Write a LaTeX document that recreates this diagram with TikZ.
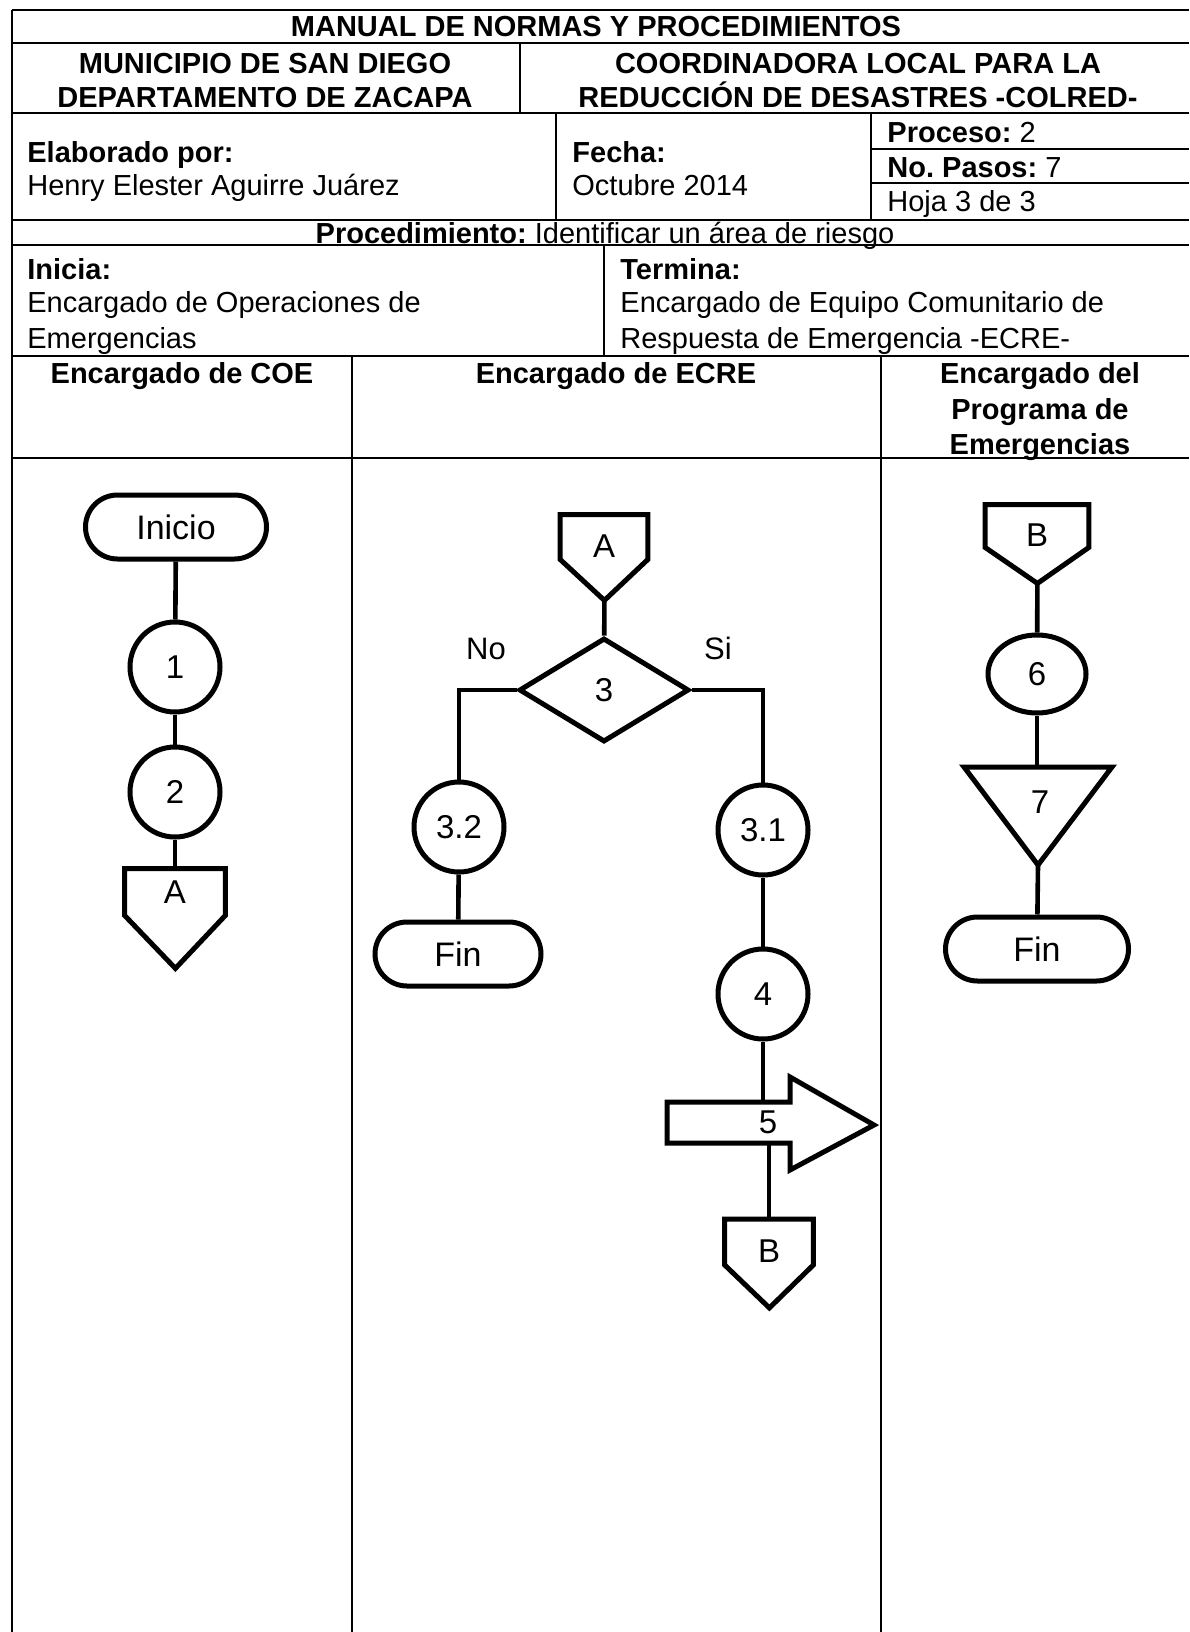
\documentclass[tikz,border=0pt]{standalone}
\usepackage{fontspec}
\setmainfont{Liberation Sans}
\usetikzlibrary{shapes.geometric,shapes.misc}
\frenchspacing

\begin{document}
\begin{tikzpicture}[x=0.5pt, y=-0.5pt,
    raya/.style={line width=0.9pt},
    celda/.style={inner sep=0pt, text height=10.4pt, text depth=0pt, font=\fontsize{14.5}{17}\selectfont},
    negrita/.style={celda, font=\fontsize{14.5}{17}\selectfont\bfseries},
    flujo/.style={line width=2.3pt},
    contorno/.style={line width=2.5pt, line join=miter},
    paso/.style={draw, circle, line width=2.5pt, minimum size=45pt, inner sep=0pt, font=\fontsize{16.5}{19}\selectfont},
    term/.style={draw, rounded rectangle, line width=2.5pt, minimum height=32pt, inner sep=0pt, font=\fontsize{17}{19}\selectfont},
    conector/.style={inner sep=0pt, font=\fontsize{16.5}{19}\selectfont},
    rama/.style={inner sep=0pt, font=\fontsize{15.5}{18}\selectfont}]
  \useasboundingbox (0,0) rectangle (1189,1632);
  % ---- table frame ----
  \foreach \y in {10,43,113,220,245,356,458} \draw[raya] (12,\y) -- (1189,\y);
  \foreach \y in {149,183} \draw[raya] (871,\y) -- (1189,\y);
  \draw[raya] (12,10) -- (12,1632);
  \draw[raya] (520,43) -- (520,113);
  \draw[raya] (556,113) -- (556,220);
  \draw[raya] (871,113) -- (871,220);
  \draw[raya] (604,245) -- (604,356);
  \foreach \x in {352,881} \draw[raya] (\x,356) -- (\x,1632);
  % ---- header ----
  \node[negrita] (titulo) at (596,26) {MANUAL DE NORMAS Y PROCEDIMIENTOS};
  \node[negrita] (muni1) at (265,63) {MUNICIPIO DE SAN DIEGO};
  \node[negrita] (muni2) at (265,97) {DEPARTAMENTO DE ZACAPA};
  \node[negrita] (coord1) at (858,63) {COORDINADORA LOCAL PARA LA};
  \node[negrita] (coord2) at (858,97) {REDUCCIÓN DE DESASTRES -COLRED-};
  \node[negrita, anchor=west] (elab) at (27,152) {Elaborado por:};
  \node[celda, anchor=west] (autor) at (27,185) {Henry Elester Aguirre Juárez};
  \node[negrita, anchor=west] (fecha) at (572,152) {Fecha:};
  \node[celda, anchor=west] (mes) at (572,185) {Octubre 2014};
  \node[celda, anchor=west] (proceso) at (887,132) {\textbf{Proceso:} 2};
  \node[celda, anchor=west] (pasos) at (887,167) {\textbf{No. Pasos:} 7};
  \node[celda, anchor=west] (hoja) at (887,201) {Hoja 3 de 3};
  \node[celda] (proc) at (605,233) {\textbf{Procedimiento:} Identificar un área de riesgo};
  \node[negrita, anchor=west] (inicia) at (27,269) {Inicia:};
  \node[celda, anchor=west] (ini1) at (27,302) {Encargado de Operaciones de};
  \node[celda, anchor=west] (ini2) at (27,338) {Emergencias};
  \node[negrita, anchor=west] (termina) at (620,269) {Termina:};
  \node[celda, anchor=west] (ter1) at (620,302) {Encargado de Equipo Comunitario de};
  \node[celda, anchor=west] (ter2) at (620,338) {Respuesta de Emergencia -ECRE-};
  % ---- lanes ----
  \node[negrita] (carril1) at (182,373) {Encargado de COE};
  \node[negrita] (carril2) at (616,373) {Encargado de ECRE};
  \node[negrita] (carril3a) at (1040,373) {Encargado del};
  \node[negrita] (carril3b) at (1040,409) {Programa de};
  \node[negrita] (carril3c) at (1040,444) {Emergencias};
  % ---- Encargado de COE ----
  \node[term, minimum width=90.5pt] (inicio) at (176,527) {Inicio};
  \node[paso] (p1) at (175,667) {1};
  \node[paso] (p2) at (175,792) {2};
  \node[conector, minimum width=50pt, minimum height=23pt] (conA) at (175,892) {A};
  \draw[contorno] (conA.north west) -- (conA.north east) -- (conA.south east)
    -- ++(-50,53) coordinate (puntaA) -- (conA.south west) -- cycle;
  \draw[flujo] (inicio) -- (p1);
  \draw[flujo] (p1) -- (p2);
  \draw[flujo] (p2) -- (conA);
  % ---- Encargado de ECRE ----
  \node[conector, minimum width=43.5pt, minimum height=22pt, text height=20.8pt] (conA2) at (604,537) {A};
  \draw[contorno] (conA2.north west) -- (conA2.north east) -- (conA2.south east)
    -- ++(-43.5,41) coordinate (puntaA2) -- (conA2.south west) -- cycle;
  \node[draw, diamond, line width=2.5pt, minimum width=85pt, minimum height=52pt, inner sep=0pt,
    font=\fontsize{16.5}{19}\selectfont] (d3) at (604,690) {3};
  \node[rama] (no) at (486,649) {No};
  \node[rama] (si) at (718,648) {Si};
  \node[paso] (p32) at (459,827) {3.2};
  \node[term, minimum width=83pt] (fin1) at (458,954) {Fin};
  \node[paso] (p31) at (763,830) {3.1};
  \node[paso] (p4) at (763,994) {4};
  \node[conector] (f5) at (768,1122) {5};
  \draw[contorno] (667,1102) -- (790,1102) -- (790,1077) -- (874,1125)
    -- (790,1170) -- (790,1143) -- (667,1143) -- cycle;
  \coordinate (f5n) at (763,1102);
  \coordinate (f5s) at (769,1143);
  \node[conector, minimum width=44pt, minimum height=22.5pt, text height=20.8pt] (conB2) at (769,1242) {B};
  \draw[contorno] (conB2.north west) -- (conB2.north east) -- (conB2.south east)
    -- ++(-44,43) coordinate (puntaB2) -- (conB2.south west) -- cycle;
  \draw[flujo] (puntaA2) -- (d3);
  \draw[flujo] (d3.west) -| (p32);
  \draw[flujo] (p32) -- (fin1);
  \draw[flujo] (d3.east) -| (p31);
  \draw[flujo] (p31) -- (p4);
  \draw[flujo] (p4) -- (f5n);
  \draw[flujo] (f5s) -- (conB2);
  % ---- Encargado del Programa de Emergencias ----
  \node[conector, minimum width=51.5pt, minimum height=21pt, text height=20.8pt] (conB) at (1037,526) {B};
  \draw[contorno] (conB.north west) -- (conB.north east) -- (conB.south east)
    -- ++(-51.5,36) coordinate (puntaB) -- (conB.south west) -- cycle;
  \node[draw, ellipse, line width=2.5pt, minimum width=49pt, minimum height=39pt, inner sep=0pt,
    font=\fontsize{16.5}{19}\selectfont] (p6) at (1037,674) {6};
  \node[conector] (p7) at (1040,802) {7};
  \draw[contorno] (964,767) -- (1112,767) -- (1038,865) -- cycle;
  \coordinate (p7n) at (1037,767);
  \coordinate (p7s) at (1038,865);
  \node[term, minimum width=91.5pt] (fin2) at (1037,949) {Fin};
  \draw[flujo] (puntaB) -- (p6);
  \draw[flujo] (p6) -- (p7n);
  \draw[flujo] (p7s) -- (fin2);
\end{tikzpicture}
\end{document}
